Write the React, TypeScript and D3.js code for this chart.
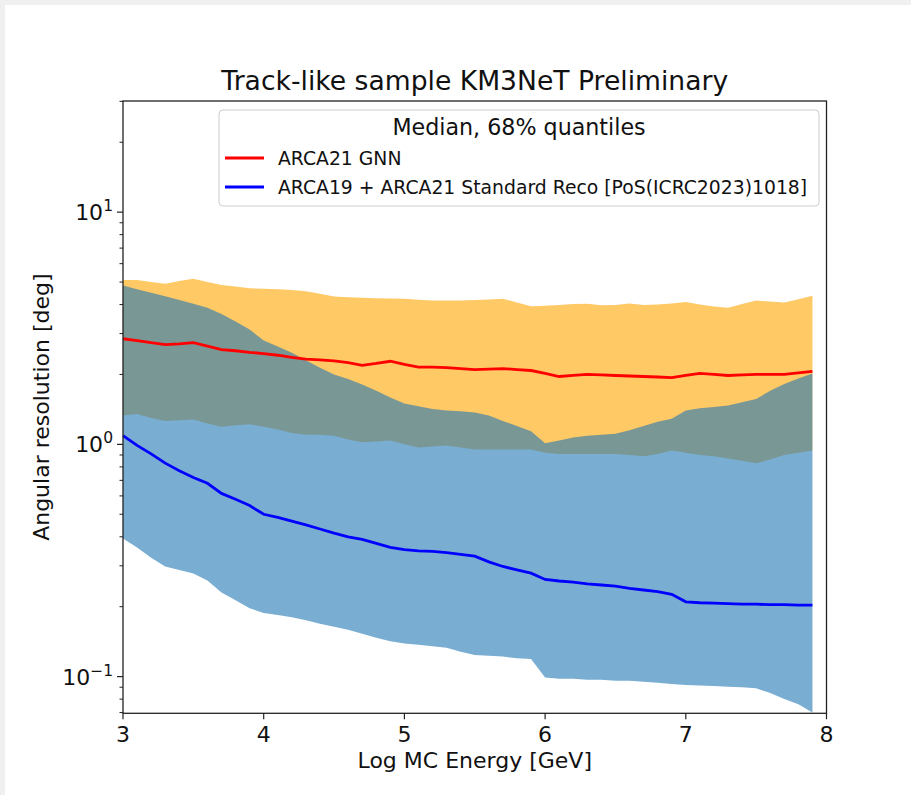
import React from "react";
import * as d3 from "d3";

const energy: number[] = d3.range(50).map((i) => +(3 + i * 0.1).toFixed(1));

const gnnMedian = [2.85, 2.8, 2.74, 2.69, 2.71, 2.74, 2.65, 2.56, 2.53, 2.49, 2.46, 2.42, 2.37, 2.33, 2.31, 2.29, 2.25, 2.19, 2.23, 2.28, 2.21, 2.15, 2.15, 2.14, 2.12, 2.1, 2.11, 2.12, 2.1, 2.08, 2.02, 1.96, 1.98, 2.0, 1.99, 1.98, 1.97, 1.96, 1.95, 1.94, 1.98, 2.02, 2.0, 1.98, 1.99, 2.0, 2.0, 2.0, 2.03, 2.06];
const gnnHigh = [5.1, 5.1, 5.0, 4.92, 5.05, 5.17, 5.0, 4.85, 4.78, 4.7, 4.68, 4.66, 4.62, 4.56, 4.45, 4.33, 4.3, 4.28, 4.26, 4.25, 4.24, 4.2, 4.16, 4.16, 4.16, 4.18, 4.21, 4.24, 4.08, 3.93, 3.95, 3.98, 4.02, 4.03, 3.97, 3.98, 4.04, 3.98, 4.0, 4.04, 4.1, 4.0, 3.92, 3.88, 4.02, 4.16, 4.12, 4.08, 4.22, 4.37];
const gnnLow = [1.33, 1.35, 1.3, 1.26, 1.27, 1.28, 1.23, 1.19, 1.21, 1.22, 1.19, 1.16, 1.12, 1.1, 1.1, 1.09, 1.05, 1.02, 1.03, 1.04, 1.0, 0.97, 0.98, 0.99, 0.97, 0.95, 0.95, 0.95, 0.95, 0.95, 0.92, 0.91, 0.91, 0.91, 0.91, 0.91, 0.9, 0.89, 0.91, 0.94, 0.92, 0.9, 0.89, 0.87, 0.85, 0.83, 0.86, 0.9, 0.92, 0.94];

const stdMedian = [1.09, 0.99, 0.91, 0.83, 0.77, 0.72, 0.68, 0.615, 0.58, 0.545, 0.5, 0.485, 0.467, 0.45, 0.432, 0.415, 0.4, 0.39, 0.375, 0.36, 0.352, 0.348, 0.346, 0.342, 0.336, 0.33, 0.312, 0.298, 0.288, 0.279, 0.262, 0.258, 0.255, 0.251, 0.248, 0.245, 0.24, 0.236, 0.232, 0.226, 0.21, 0.208, 0.207, 0.206, 0.205, 0.205, 0.204, 0.204, 0.203, 0.203];
const stdHigh = [4.83, 4.66, 4.5, 4.34, 4.18, 4.03, 3.88, 3.64, 3.38, 3.12, 2.8, 2.64, 2.48, 2.3, 2.14, 2.0, 1.91, 1.81, 1.7, 1.59, 1.5, 1.46, 1.42, 1.4, 1.39, 1.37, 1.33, 1.26, 1.2, 1.14, 1.01, 1.04, 1.07, 1.09, 1.1, 1.11, 1.15, 1.2, 1.25, 1.29, 1.4, 1.43, 1.45, 1.47, 1.52, 1.57, 1.7, 1.82, 1.92, 2.02];
const stdLow = [0.393, 0.36, 0.325, 0.298, 0.288, 0.278, 0.259, 0.23, 0.213, 0.197, 0.188, 0.184, 0.18, 0.175, 0.169, 0.164, 0.159, 0.153, 0.147, 0.142, 0.139, 0.137, 0.135, 0.133, 0.128, 0.124, 0.123, 0.122, 0.12, 0.119, 0.099, 0.098, 0.098, 0.097, 0.097, 0.096, 0.096, 0.095, 0.094, 0.093, 0.092, 0.0915, 0.091, 0.0905, 0.09, 0.089, 0.085, 0.08, 0.076, 0.07];

const xTicks = [3, 4, 5, 6, 7, 8];
const yMajor = [0.1, 1, 10];
const yMajorExp = ["\u22121", "0", "1"];

const titleText = "Track-like sample KM3NeT Preliminary";
const xLabel = "Log MC Energy [GeV]";
const yLabel = "Angular resolution [deg]";
const legendTitle = "Median, 68% quantiles";
const seriesNames = ["ARCA21 GNN", "ARCA19 + ARCA21 Standard Reco [PoS(ICRC2023)1018]"];

const W = 911;
const H = 795;
const L = 123, R = 826.5, T = 101, B = 713.3;
const FONT = "'DejaVu Sans', sans-serif";

export default function App() {
  const x = d3.scaleLinear().domain([3, 8]).range([L, R]);
  const y = d3.scaleLog().domain([0.0695, 30.1]).range([B, T]);

  const band = (lo: number[], hi: number[]) =>
    d3
      .area<number>()
      .x((_, i) => x(energy[i]))
      .y0((_, i) => y(lo[i]))
      .y1((_, i) => y(hi[i]))(energy) || "";
  const line = (v: number[]) =>
    d3
      .line<number>()
      .x((_, i) => x(energy[i]))
      .y((_, i) => y(v[i]))(energy) || "";

  const minor: number[] = [];
  [0.01, 0.1, 1, 10].forEach((dec) => {
    for (let k = 2; k <= 9; k++) {
      const v = dec * k;
      if (v >= 0.0695 && v <= 30.1) minor.push(v);
    }
  });

  return (
    <svg
      width={W}
      height={H}
      style={{ position: "absolute", left: 0, top: 0, fontFamily: FONT }}
    >
      <rect x={0} y={0} width={W} height={H} fill="#f0f0f0" />
      <rect x={5} y={5} width={W - 5} height={H - 5} fill="#ffffff" />

      <path d={band(gnnLow, gnnHigh)} fill="orange" fillOpacity={0.6} />
      <path d={band(stdLow, stdHigh)} fill="#1f77b4" fillOpacity={0.6} />
      <path d={line(gnnMedian)} fill="none" stroke="red" strokeWidth={2.8} />
      <path d={line(stdMedian)} fill="none" stroke="blue" strokeWidth={2.8} />

      <rect x={L} y={T} width={R - L} height={B - T} fill="none" stroke="#222" strokeWidth={1.3} />

      {xTicks.map((t) => (
        <g key={"x" + t}>
          <line x1={x(t)} x2={x(t)} y1={B} y2={B + 6} stroke="#222" strokeWidth={1.2} />
          <text x={x(t)} y={B + 29} textAnchor="middle" fontSize={22} fill="#111">
            {t}
          </text>
        </g>
      ))}
      {yMajor.map((t, i) => (
        <g key={"y" + t}>
          <line x1={L - 6} x2={L} y1={y(t)} y2={y(t)} stroke="#222" strokeWidth={1.2} />
          <text x={L - 10} y={y(t) + 8} textAnchor="end" fontSize={22} fill="#111">
            10
            <tspan fontSize={15.5} dy={-9}>
              {yMajorExp[i]}
            </tspan>
          </text>
        </g>
      ))}
      {minor.map((t) => (
        <line key={"m" + t} x1={L - 3.5} x2={L} y1={y(t)} y2={y(t)} stroke="#222" strokeWidth={1} />
      ))}

      <text x={(L + R) / 2} y={90} textAnchor="middle" fontSize={26.6} fill="#111">
        {titleText}
      </text>
      <text x={(L + R) / 2} y={768} textAnchor="middle" fontSize={22} fill="#111">
        {xLabel}
      </text>
      <text
        transform={`translate(49,${(T + B) / 2}) rotate(-90)`}
        textAnchor="middle"
        fontSize={22}
        fill="#111"
      >
        {yLabel}
      </text>

      <g>
        <rect x={219} y={110} width={600} height={96} rx={4} fill="#fff" fillOpacity={0.8} stroke="#cccccc" strokeWidth={1} />
        <text x={519} y={135} textAnchor="middle" fontSize={22.2} fill="#111">
          {legendTitle}
        </text>
        <line x1={225} x2={264} y1={158} y2={158} stroke="red" strokeWidth={2.8} />
        <text x={278} y={164.5} fontSize={18.8} fill="#111">
          {seriesNames[0]}
        </text>
        <line x1={225} x2={264} y1={187} y2={187} stroke="blue" strokeWidth={2.8} />
        <text x={278} y={193.5} fontSize={18.8} fill="#111">
          {seriesNames[1]}
        </text>
      </g>
    </svg>
  );
}
